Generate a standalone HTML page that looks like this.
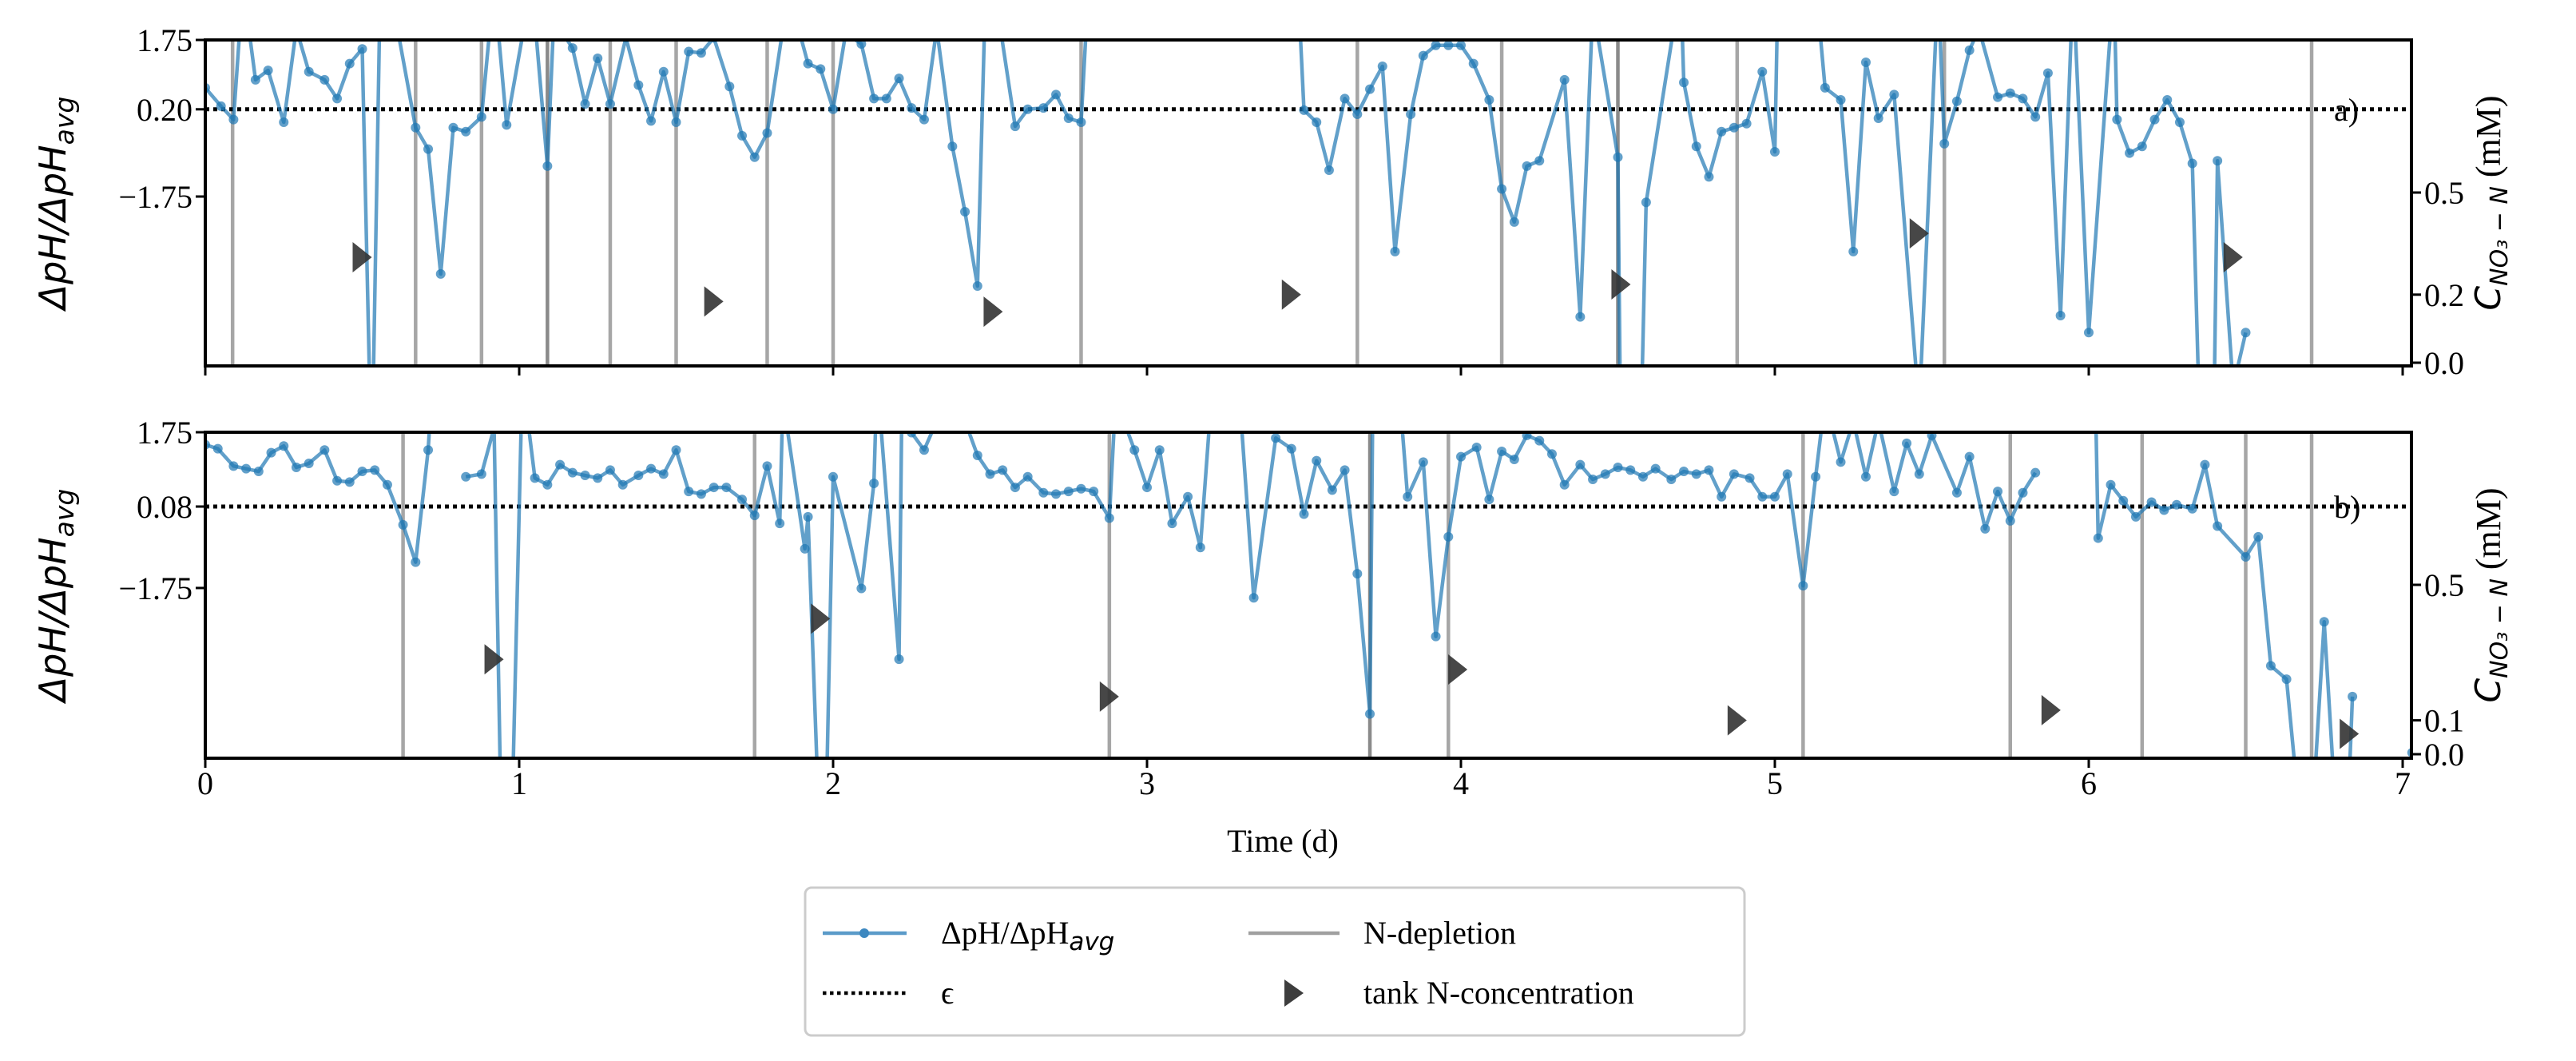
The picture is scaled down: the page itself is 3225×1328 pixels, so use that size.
<!DOCTYPE html>
<html><head><meta charset="utf-8">
<style>
html,body{margin:0;padding:0;background:#fff;}
svg{display:block;font-family:"Liberation Serif",serif;}
</style></head>
<body>
<svg id="chart" width="3225" height="1328" viewBox="0 0 3225 1328" xmlns="http://www.w3.org/2000/svg">
<defs>
<clipPath id="clipA"><rect x="257" y="50" width="2762" height="408"/></clipPath>
<clipPath id="clipB"><rect x="257" y="541" width="2762" height="408"/></clipPath>
</defs>
<g id="root"></g>
<g>
<rect x="1008" y="1111" width="1176" height="185" rx="8" fill="#fff" stroke="#ccc" stroke-width="3"/>
<g>
<line x1="1030" y1="1168" x2="1135" y2="1168" stroke="#5b9bc9" stroke-width="4.5"/>
<circle cx="1082" cy="1168" r="6" fill="#3d88c0"/>
<text x="1178" y="1181" font-size="40">ΔpH/ΔpH<tspan font-style="italic" font-family="'DejaVu Sans',sans-serif" font-size="31" dy="8">avg</tspan></text>
</g>
<g>
<line x1="1030" y1="1243" x2="1135" y2="1243" stroke="#000" stroke-width="4.5" stroke-dasharray="4.5 4.5"/>
<text x="1178" y="1256" font-size="40">ϵ</text>
</g>
<g>
<line x1="1563" y1="1168" x2="1677" y2="1168" stroke="#a0a0a0" stroke-width="4.5"/>
<text x="1707" y="1181" font-size="40">N-depletion</text>
</g>
<g>
<polygon points="1608,1226 1632,1243 1608,1260" fill="#3d3d3d"/>
<text x="1707" y="1256" font-size="40">tank N-concentration</text>
</g>
</g>
</svg>
<script>
// ---- data ----
const xTicks = [0,1,2,3,4,5,6,7];
const aLeftTicks = [1.75, 0.20, -1.75];
const aLeftLabels = ["1.75","0.20","\u22121.75"];
const aRightTicks = [0.0, 0.2, 0.5];
const aRightLabels = ["0.0","0.2","0.5"];
const bLeftTicks = [1.75, 0.08, -1.75];
const bLeftLabels = ["1.75","0.08","\u22121.75"];
const bRightTicks = [0.0, 0.1, 0.5];
const bRightLabels = ["0.0","0.1","0.5"];
const aEpsilon = 0.20;
const bEpsilon = 0.08;
const aDepletion = [0.087,0.67,0.88,1.09,1.29,1.50,1.79,2.0,2.79,3.67,4.13,4.50,4.88,5.54,6.71];
const aDepletionDark = [1.09,4.50];
const bDepletion = [0.63,1.75,2.88,3.71,3.96,5.09,5.75,6.17,6.50,6.71];
const bDepletionDark = [3.71];
const aTankDays = [0.50,1.62,2.51,3.46,4.51,5.46,6.46];
const aTankConc = [0.31,0.18,0.15,0.20,0.23,0.38,0.31];
const bTankDays = [0.92,1.96,2.88,3.99,4.88,5.88,6.83];
const bTankConc = [0.28,0.40,0.17,0.25,0.10,0.13,0.06];
const aDays = [0.0,0.05,0.09,0.12,0.16,0.20,0.25,0.29,0.33,0.38,0.42,0.46,0.50,0.53,0.56,0.67,0.71,0.75,0.79,0.83,0.88,0.92,0.96,1.04,1.09,1.11,1.17,1.21,1.25,1.29,1.34,1.38,1.42,1.46,1.50,1.54,1.58,1.62,1.67,1.71,1.75,1.79,1.84,1.89,1.92,1.96,2.0,2.04,2.09,2.13,2.17,2.21,2.25,2.29,2.33,2.38,2.42,2.46,2.49,2.58,2.62,2.67,2.71,2.75,2.79,2.81,3.46,3.50,3.54,3.58,3.63,3.67,3.71,3.75,3.79,3.84,3.88,3.92,3.96,4.0,4.04,4.09,4.13,4.17,4.21,4.25,4.33,4.38,4.42,4.50,4.51,4.57,4.59,4.70,4.71,4.75,4.79,4.83,4.87,4.91,4.96,5.0,5.01,5.13,5.16,5.21,5.25,5.29,5.33,5.38,5.46,5.52,5.54,5.58,5.62,5.65,5.71,5.75,5.79,5.83,5.87,5.91,5.95,6.0,6.08,6.09,6.13,6.17,6.21,6.25,6.29,6.33,6.35,6.40,6.41,6.46,6.50];
const aValues = [0.68,0.27,-0.03,3.0,0.86,1.07,-0.09,2.0,1.04,0.86,0.44,1.22,1.55,-8,4,-0.21,-0.69,-3.48,-0.21,-0.30,0.03,3,-0.15,3,-1.07,2.2,1.57,0.32,1.34,0.32,1.8,0.74,-0.06,1.04,-0.09,1.49,1.46,1.8,0.71,-0.39,-0.87,-0.33,2.0,2.0,1.22,1.1,0.2,1.9,1.66,0.44,0.44,0.89,0.23,-0.03,2.0,-0.63,-2.09,-3.75,4,-0.18,0.2,0.23,0.53,0.0,-0.09,2.5,6,0.18,-0.09,-1.16,0.44,0.09,0.65,1.16,-2.98,0.09,1.40,1.63,1.63,1.63,1.22,0.41,-1.58,-2.32,-1.07,-0.95,0.86,-4.44,2.5,-0.87,-8,-8,-1.88,3,0.8,-0.63,-1.31,-0.30,-0.21,-0.12,1.04,-0.75,3,3,0.68,0.41,-2.98,1.25,0.0,0.53,-6.5,3,-0.57,0.38,1.52,2.0,0.47,0.56,0.44,0.03,1.01,-4.41,3,-4.79,3,-0.03,-0.78,-0.63,-0.03,0.41,-0.09,-1.01,-6,-6,-0.95,-6,-4.79];
const bDays = [0.0,0.04,0.09,0.13,0.17,0.21,0.25,0.29,0.33,0.38,0.42,0.46,0.50,0.54,0.58,0.63,0.67,0.71,0.72,null,0.83,0.88,0.92,0.94,0.98,1.01,1.05,1.09,1.13,1.17,1.21,1.25,1.29,1.33,1.38,1.42,1.46,1.50,1.54,1.58,1.62,1.66,1.71,1.75,1.79,1.83,1.84,1.91,1.92,1.95,1.98,2.0,2.09,2.13,2.14,2.21,2.22,2.25,2.29,2.33,2.42,2.46,2.50,2.54,2.58,2.62,2.67,2.71,2.75,2.79,2.83,2.88,2.90,2.96,3.0,3.04,3.08,3.13,3.17,3.21,3.29,3.34,3.41,3.46,3.50,3.54,3.59,3.63,3.67,3.71,3.72,3.80,3.83,3.88,3.92,3.96,4.0,4.05,4.09,4.13,4.17,4.21,4.25,4.29,4.33,4.38,4.42,4.46,4.50,4.54,4.58,4.62,4.67,4.71,4.75,4.79,4.83,4.87,4.92,4.96,5.0,5.04,5.09,5.13,5.16,5.21,5.25,5.29,5.33,5.38,5.42,5.46,5.50,5.58,5.62,5.67,5.71,5.75,5.79,5.83,null,6.02,6.03,6.07,6.11,6.15,6.20,6.24,6.28,6.33,6.37,6.41,6.50,6.54,6.58,6.63,6.66,6.72,6.75,6.78,null,6.83,6.84,null,7.03];
const bValues = [1.47,1.38,0.99,0.93,0.87,1.29,1.44,0.96,1.05,1.35,0.66,0.63,0.87,0.90,0.57,-0.33,-1.17,1.35,2.5,null,0.75,0.81,1.85,-6,-6,3,0.72,0.57,1.02,0.84,0.78,0.72,0.90,0.57,0.78,0.93,0.81,1.35,0.42,0.36,0.51,0.51,0.24,-0.12,0.99,-0.30,2.5,-0.87,-0.15,-6,-6,0.75,-1.76,0.60,3,-3.35,3,1.74,1.35,2.0,2.0,1.23,0.81,0.90,0.51,0.75,0.39,0.36,0.42,0.48,0.42,-0.18,2.5,1.35,0.51,1.35,-0.30,0.30,-0.84,3,3,-1.97,1.62,1.38,-0.09,1.11,0.45,0.90,-1.43,-4.58,3,3,0.30,1.08,-2.84,-0.60,1.20,1.41,0.24,1.32,1.14,1.68,1.56,1.26,0.57,1.02,0.69,0.81,0.96,0.90,0.75,0.93,0.69,0.87,0.81,0.90,0.30,0.81,0.72,0.30,0.30,0.81,-1.70,0.75,2.5,1.08,2,0.75,2,0.42,1.50,0.81,1.68,0.39,1.20,-0.42,0.42,-0.24,0.39,0.84,null,3,-0.63,0.57,0.21,-0.15,0.18,0.0,0.12,0.03,1.02,-0.36,-1.05,-0.60,-3.50,-3.80,-6,-6,-2.51,-6,null,-6,-4.19,null,-5.45];

// ---- layout ----
const X0 = 257, XU = 393, XR = 3019;
const panels = [
 {name:"a", top:50, bot:458, yTop:1.75, yU:56, rZero:454, rU:426, days:aDays, vals:aValues, eps:aEpsilon, dep:aDepletion, depDark:aDepletionDark, tD:aTankDays, tC:aTankConc, lt:aLeftTicks, ll:aLeftLabels, rt:aRightTicks, rl:aRightLabels, clip:"clipA", label:"a)", showX:false},
 {name:"b", top:541, bot:949, yTop:1.75, yU:55.7, rZero:944, rU:424, days:bDays, vals:bValues, eps:bEpsilon, dep:bDepletion, depDark:bDepletionDark, tD:bTankDays, tC:bTankConc, lt:bLeftTicks, ll:bLeftLabels, rt:bRightTicks, rl:bRightLabels, clip:"clipB", label:"b)", showX:true}
];
const NS = "http://www.w3.org/2000/svg";
const root = document.getElementById("root");
function mk(tag, attrs, parent){
  const e = document.createElementNS(NS, tag);
  for (const k in attrs) e.setAttribute(k, attrs[k]);
  (parent||root).appendChild(e);
  return e;
}
const xs = d => X0 + d*XU;

panels.forEach(p => {
  const ys = v => p.top + (p.yTop - v)*p.yU;
  const yr = c => p.rZero - c*p.rU;
  const g = mk("g", {});
  
  
  const plot = mk("g", {"clip-path":"url(#"+p.clip+")"}, g);
  
  
  p.dep.forEach(d => {
    const dark = p.depDark.indexOf(d) >= 0;
    const l = mk("line", {x1:xs(d), x2:xs(d), y1:p.top, y2:p.bot, stroke: dark?"#8a8a8a":"#a6a6a6", "stroke-width":4.5}, plot);
    
    
  });
  const eps = mk("line", {x1:X0, x2:XR, y1:ys(p.eps), y2:ys(p.eps), stroke:"#000", "stroke-width":5, "stroke-dasharray":"5 5"}, plot);
  
  
  let segs = [], cur = [];
  for (let i=0;i<p.days.length;i++){
    if (p.days[i]===null || p.vals[i]===null){ if(cur.length) segs.push(cur); cur=[]; continue; }
    cur.push([xs(p.days[i]), ys(p.vals[i])]);
  }
  if (cur.length) segs.push(cur);
  segs.forEach(s => {
    const pl = mk("polyline", {points: s.map(q=>q.join(",")).join(" "), fill:"none", stroke:"#1f77b4", "stroke-opacity":0.7, "stroke-width":4.5, "stroke-linejoin":"round"}, plot);
    
    
  });
  for (let i=0;i<p.days.length;i++){
    if (p.days[i]===null || p.vals[i]===null) continue;
    const c = mk("circle", {cx:xs(p.days[i]), cy:ys(p.vals[i]), r:6, fill:"#1f77b4", "fill-opacity":0.7}, plot);
    
    
  }
  p.tD.forEach((d,i) => {
    const x = xs(d), y = yr(p.tC[i]);
    const t = mk("polygon", {points:`${x-12},${y-19} ${x+12},${y} ${x-12},${y+19}`, fill:"#333", "fill-opacity":0.9}, g);
    
    
  });
  const sp = mk("rect", {x:X0, y:p.top, width:XR-X0, height:p.bot-p.top, fill:"none", stroke:"#000", "stroke-width":4}, g);
  
  
  xTicks.forEach(t => {
    mk("line", {x1:xs(t), x2:xs(t), y1:p.bot, y2:p.bot+12, stroke:"#000", "stroke-width":3}, g);
    if (p.showX){
      const tl = mk("text", {x:xs(t), y:p.bot+45, "font-size":40, "text-anchor":"middle"}, g);
      tl.textContent = String(t);
      
      
    }
  });
  p.lt.forEach((t,i) => {
    mk("line", {x1:X0-12, x2:X0, y1:ys(t), y2:ys(t), stroke:"#000", "stroke-width":3}, g);
    const tl = mk("text", {x:X0-16, y:ys(t)+14, "font-size":40, "text-anchor":"end"}, g);
    tl.textContent = p.ll[i];
    
    
  });
  p.rt.forEach((t,i) => {
    mk("line", {x1:XR, x2:XR+12, y1:yr(t), y2:yr(t), stroke:"#000", "stroke-width":3}, g);
    const tl = mk("text", {x:XR+16, y:yr(t)+14, "font-size":40}, g);
    tl.textContent = p.rl[i];
    
    
  });
  const pl = mk("text", {x:2922, y:ys(p.eps)+14, "font-size":40}, g);
  pl.textContent = p.label;
  
  
  const cy = (p.top+p.bot)/2;
  const yl = mk("text", {x:0, y:0, transform:`translate(82,${cy}) rotate(-90)`, "font-size":46, "text-anchor":"middle", "font-family":"'DejaVu Sans',sans-serif", "font-style":"italic"}, g);
  yl.innerHTML = 'ΔpH/ΔpH<tspan font-size="33" dy="10">avg</tspan>';
  
  
  const yr2 = mk("text", {x:0, y:0, transform:`translate(3130,${cy}) rotate(-90)`, "font-size":44, "text-anchor":"middle"}, g);
  yr2.innerHTML = '<tspan font-style="italic" font-family="\'DejaVu Sans\',sans-serif">C</tspan><tspan font-style="italic" font-family="\'DejaVu Sans\',sans-serif" font-size="30" dy="9">NO₃ − N</tspan><tspan dy="-9"> (mM)</tspan>';
  
  
});
const xt = mk("text", {x:1606, y:1066, "font-size":40, "text-anchor":"middle"});
xt.textContent = "Time (d)";


</script>
</body></html>
